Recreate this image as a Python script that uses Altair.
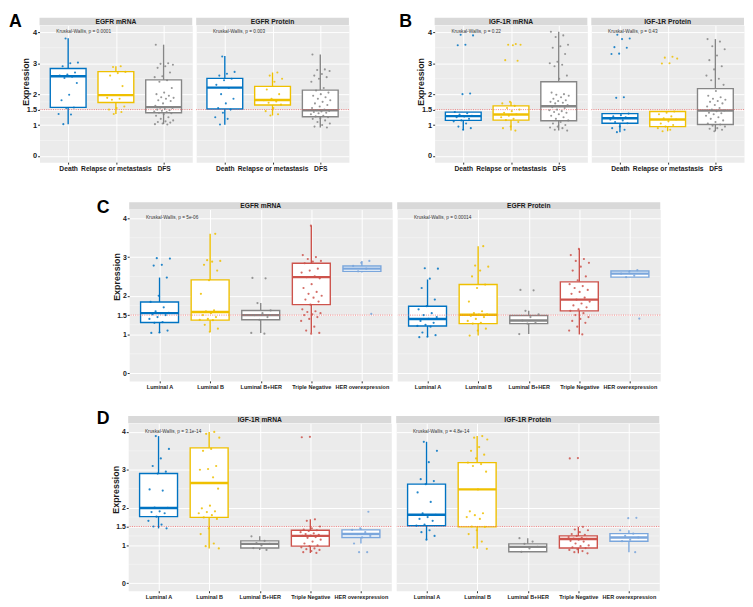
import altair as alt
import pandas as pd

FONT = "Liberation Sans"

OUTCOME_CATS = ["Death", "Relapse or metastasis", "DFS"]
SUBTYPE_CATS = ["Luminal A", "Luminal B", "Luminal B+HER", "Triple Negative", "HER overexpression"]
OUTCOME_COLORS = ["#0073C2", "#EFC000", "#868686"]
SUBTYPE_COLORS = ["#0073C2", "#EFC000", "#868686", "#CD534C", "#7AA6DC"]
COLOR_DOMAIN = OUTCOME_CATS + SUBTYPE_CATS
COLOR_RANGE = OUTCOME_COLORS + SUBTYPE_COLORS

Y_TICKS = [0, 1, 1.5, 2, 3, 4]
Y_MINOR = [0.5, 1.25, 1.75, 2.5, 3.5]
Y_DOMAIN = [-0.2, 4.23]
THRESHOLD = [1.5]

# box statistics per group: [lower whisker, Q1, median, Q3, upper whisker]
A_MRNA_BOX = [[1.03, 1.57, 2.58, 2.83, 3.81], [1.36, 1.73, 1.97, 2.73, 2.90], [1.03, 1.40, 1.58, 2.46, 3.60]]
A_PROT_BOX = [[1.01, 1.52, 2.21, 2.51, 3.23], [1.31, 1.65, 1.81, 2.25, 2.70], [0.92, 1.27, 1.48, 2.13, 3.28]]
B_MRNA_BOX = [[0.84, 1.15, 1.29, 1.42, 1.42], [0.82, 1.16, 1.34, 1.62, 1.75], [0.82, 1.14, 1.61, 2.40, 4.02]]
B_PROT_BOX = [[0.77, 1.06, 1.22, 1.37, 1.37], [0.80, 0.95, 1.18, 1.44, 1.44], [0.80, 1.02, 1.47, 2.18, 3.78]]
C_MRNA_BOX = [[1.04, 1.31, 1.55, 1.84, 2.47], [1.07, 1.37, 1.58, 2.41, 3.60], [1.04, 1.38, 1.50, 1.62, 1.81],
              [1.04, 1.77, 2.48, 2.84, 3.81], [2.60, 2.63, 2.70, 2.77, 2.90]]
C_PROT_BOX = [[0.94, 1.22, 1.40, 1.73, 2.42], [0.97, 1.28, 1.51, 2.29, 3.28], [1.01, 1.28, 1.36, 1.49, 1.61],
              [1.00, 1.61, 1.90, 2.36, 3.21], [2.48, 2.48, 2.57, 2.64, 2.66]]
D_MRNA_BOX = [[1.45, 1.76, 1.99, 2.90, 3.89], [0.92, 1.74, 2.65, 3.58, 4.00], [0.88, 0.93, 1.04, 1.12, 1.24],
              [0.80, 0.98, 1.25, 1.40, 1.69], [1.05, 1.21, 1.30, 1.41, 1.45]]
D_PROT_BOX = [[1.15, 1.52, 1.81, 2.62, 3.74], [0.91, 1.49, 2.48, 3.19, 3.89], [0.83, 0.83, 0.96, 1.04, 1.19],
              [0.79, 0.93, 1.17, 1.25, 1.49], [0.82, 1.11, 1.21, 1.31, 1.40]]

# individual observations per group
A_MRNA_PTS = [
    [3.80, 3.02, 3.00, 2.90, 2.70, 2.63, 2.60, 2.56, 2.52, 2.36, 1.98, 1.80, 1.57, 1.55, 1.36, 1.34, 1.03],
    [2.90, 2.88, 2.72, 2.68, 2.60, 2.26, 1.97, 1.88, 1.85, 1.82, 1.60, 1.55, 1.50, 1.42, 1.36],
    [3.60, 3.00, 2.98, 2.95, 2.90, 2.85, 2.70, 2.58, 2.55, 2.45, 2.40, 2.20, 2.05, 2.00, 1.95, 1.90, 1.88,
     1.85, 1.80, 1.78, 1.70, 1.62, 1.58, 1.56, 1.55, 1.52, 1.50, 1.48, 1.46, 1.44, 1.42, 1.40, 1.38, 1.35,
     1.30, 1.25, 1.20, 1.15, 1.12, 1.10, 1.08, 1.05, 1.03, 1.02],
]
A_PROT_PTS = [
    [3.22, 2.72, 2.66, 2.60, 2.50, 2.45, 2.30, 2.20, 2.00, 1.85, 1.70, 1.55, 1.50, 1.40, 1.25, 1.20, 1.02],
    [2.70, 2.60, 2.50, 2.40, 2.15, 2.00, 1.85, 1.80, 1.76, 1.72, 1.66, 1.55, 1.45, 1.35, 1.31],
    [3.28, 2.80, 2.78, 2.75, 2.65, 2.60, 2.55, 2.50, 2.40, 2.20, 2.12, 2.05, 2.00, 1.95, 1.90, 1.85, 1.80,
     1.75, 1.70, 1.65, 1.60, 1.55, 1.50, 1.48, 1.46, 1.44, 1.42, 1.40, 1.38, 1.35, 1.30, 1.28, 1.25, 1.22,
     1.20, 1.15, 1.10, 1.05, 1.00, 0.95, 0.92],
]
B_MRNA_PTS = [
    [3.92, 3.90, 3.60, 3.58, 2.02, 2.00, 1.42, 1.38, 1.34, 1.30, 1.28, 1.25, 1.20, 1.15, 1.12, 1.05, 0.95,
     0.90, 0.85],
    [3.62, 3.60, 3.60, 3.58, 3.10, 3.08, 1.75, 1.70, 1.62, 1.55, 1.50, 1.45, 1.40, 1.35, 1.30, 1.25, 1.20,
     1.16, 1.10, 0.95, 0.90, 0.82],
    [4.02, 3.90, 3.85, 3.60, 3.55, 3.50, 3.30, 3.05, 3.00, 2.95, 2.90, 2.60, 2.50, 2.05, 2.00, 1.98, 1.95,
     1.90, 1.85, 1.80, 1.78, 1.75, 1.72, 1.70, 1.65, 1.61, 1.58, 1.55, 1.50, 1.48, 1.45, 1.42, 1.40, 1.35,
     1.30, 1.25, 1.20, 1.15, 1.10, 1.05, 1.00, 0.95, 0.92, 0.90, 0.85, 0.82],
]
B_PROT_PTS = [
    [3.92, 3.80, 3.78, 3.52, 3.50, 3.31, 3.30, 1.90, 1.88, 1.37, 1.32, 1.28, 1.25, 1.22, 1.18, 1.15, 1.10,
     1.06, 0.95, 0.90, 0.85, 0.77],
    [3.21, 3.18, 3.15, 3.00, 2.99, 1.44, 1.40, 1.35, 1.28, 1.22, 1.18, 1.12, 1.05, 1.00, 0.95, 0.90, 0.85, 0.80],
    [3.78, 3.70, 3.55, 3.45, 3.25, 3.10, 2.90, 2.80, 2.60, 2.50, 2.45, 2.30, 2.10, 1.95, 1.90, 1.85, 1.82,
     1.78, 1.75, 1.70, 1.65, 1.60, 1.55, 1.50, 1.47, 1.45, 1.40, 1.38, 1.35, 1.30, 1.25, 1.20, 1.15, 1.10,
     1.05, 1.02, 0.98, 0.95, 0.90, 0.88, 0.85, 0.80],
]
C_MRNA_PTS = [
    [2.97, 2.96, 2.80, 2.78, 2.47, 2.00, 1.84, 1.70, 1.60, 1.56, 1.55, 1.52, 1.50, 1.45, 1.40, 1.32, 1.30,
     1.10, 1.05, 1.04],
    [3.60, 2.92, 2.90, 2.88, 2.80, 2.65, 2.40, 2.05, 1.62, 1.60, 1.58, 1.55, 1.50, 1.45, 1.40, 1.38, 1.37,
     1.25, 1.15, 1.07],
    [2.46, 2.45, 1.81, 1.62, 1.55, 1.50, 1.45, 1.38, 1.04, 1.02],
    [3.81, 3.05, 3.00, 2.95, 2.90, 2.88, 2.84, 2.70, 2.65, 2.60, 2.50, 2.48, 2.45, 2.30, 2.20, 2.10, 2.05,
     2.00, 1.95, 1.90, 1.85, 1.77, 1.65, 1.60, 1.58, 1.55, 1.52, 1.50, 1.45, 1.40, 1.35, 1.20, 1.10, 1.04, 1.02],
    [2.90, 2.85, 2.77, 2.70, 2.63, 1.53],
]
C_PROT_PTS = [
    [2.71, 2.70, 2.44, 2.20, 1.90, 1.73, 1.65, 1.55, 1.50, 1.45, 1.40, 1.35, 1.30, 1.25, 1.22, 1.20, 1.05,
     0.98, 0.94, 0.93],
    [3.28, 2.78, 2.75, 2.65, 2.50, 2.29, 2.20, 1.85, 1.60, 1.55, 1.52, 1.51, 1.48, 1.45, 1.40, 1.35, 1.30,
     1.28, 1.15, 1.10, 0.97],
    [2.15, 2.14, 1.61, 1.52, 1.45, 1.36, 1.30, 1.28, 1.01],
    [3.21, 3.05, 2.95, 2.90, 2.85, 2.75, 2.65, 2.50, 2.40, 2.30, 2.25, 2.20, 2.15, 2.10, 2.05, 1.95, 1.90,
     1.85, 1.80, 1.75, 1.70, 1.65, 1.61, 1.55, 1.50, 1.45, 1.40, 1.35, 1.30, 1.20, 1.10, 1.00],
    [2.66, 2.62, 2.57, 2.52, 2.48, 1.41],
]
D_MRNA_PTS = [
    [3.89, 3.55, 3.30, 3.10, 2.95, 2.90, 2.48, 2.45, 2.00, 1.99, 1.90, 1.88, 1.85, 1.76, 1.65, 1.55, 1.50, 1.45],
    [4.00, 3.95, 3.85, 3.55, 3.50, 3.10, 3.02, 3.00, 2.80, 2.65, 2.50, 2.05, 1.98, 1.90, 1.88, 1.85, 1.80,
     1.74, 1.70, 1.45, 1.30, 1.05, 0.98, 0.92],
    [1.24, 1.12, 1.06, 1.04, 1.00, 0.93, 0.88],
    [3.87, 3.86, 1.69, 1.65, 1.50, 1.45, 1.42, 1.40, 1.38, 1.35, 1.32, 1.30, 1.28, 1.26, 1.25, 1.22, 1.20,
     1.15, 1.10, 1.05, 1.00, 0.98, 0.95, 0.92, 0.90, 0.88, 0.85, 0.82, 0.80],
    [1.89, 1.45, 1.41, 1.35, 1.30, 1.25, 1.21, 1.05, 0.82, 0.82],
]
D_PROT_PTS = [
    [3.74, 3.50, 3.20, 2.75, 2.70, 2.62, 2.40, 2.15, 1.85, 1.81, 1.75, 1.70, 1.65, 1.55, 1.52, 1.40, 1.35,
     1.25, 1.15],
    [3.89, 3.85, 3.80, 3.60, 3.50, 3.40, 3.30, 3.19, 3.15, 3.10, 2.95, 2.48, 1.90, 1.85, 1.80, 1.75, 1.70,
     1.50, 1.49, 1.40, 1.30, 1.10, 0.95, 0.91],
    [1.19, 1.10, 1.04, 0.96, 0.92, 0.83],
    [3.31, 3.30, 1.49, 1.42, 1.40, 1.35, 1.30, 1.28, 1.25, 1.22, 1.20, 1.18, 1.17, 1.15, 1.12, 1.10, 1.05,
     1.00, 0.98, 0.95, 0.93, 0.90, 0.88, 0.85, 0.82, 0.79],
    [1.73, 1.72, 1.40, 1.31, 1.25, 1.21, 1.15, 1.11, 0.82],
]

P_TEXTS = {
    "A1": "Kruskal-Wallis, p = 0.0001", "A2": "Kruskal-Wallis, p = 0.003",
    "B1": "Kruskal-Wallis, p = 0.22", "B2": "Kruskal-Wallis, p = 0.43",
    "C1": "Kruskal-Wallis, p = 5e-06", "C2": "Kruskal-Wallis, p = 0.00014",
    "D1": "Kruskal-Wallis, p = 3.1e-14", "D2": "Kruskal-Wallis, p = 4.8e-14",
}

ROW_STYLE = {
    "AB": dict(w=155, h=139, sh=7.5, xfs=6.8, yfs=7.5, titlex=-9, titley=57, pt=4.5, sfs=6.8),
    "C": dict(w=267, h=174, sh=7.3, xfs=5.6, yfs=7.0, titlex=-7.5, titley=68, pt=5, sfs=6.8),
    "D": dict(w=267, h=170, sh=7.3, xfs=5.6, yfs=7.0, titlex=-7.5, titley=67, pt=5, sfs=6.8),
}

Y_LABEL_EXPR = "datum.value == 1.5 ? '1.5' : format(datum.value, 'd')"


def facet(title, cats, box, pts, ptext, st, first, letter=None):
    n = len(cats)
    w, h, sh = st["w"], st["h"], st["sh"]
    bdf = pd.DataFrame({
        "cat": cats, "idx": list(range(1, n + 1)),
        "lo": [b[0] for b in box], "q1": [b[1] for b in box], "med": [b[2] for b in box],
        "q3": [b[3] for b in box], "hi": [b[4] for b in box],
    })
    rows = []
    for i, (c, vals) in enumerate(zip(cats, pts)):
        for k, v in enumerate(vals):
            rows.append({"cat": c, "idx": i + 1, "k": k, "val": v})
    pdf = pd.DataFrame(rows)

    xs = alt.Scale(domain=[0.4, n + 0.6], nice=False, zero=False)
    ys = alt.Scale(domain=Y_DOMAIN, nice=False, zero=False)
    label_expr = "[" + ",".join("'%s'" % c for c in cats) + "][datum.value - 1]"
    xaxis = alt.Axis(values=list(range(1, n + 1)), labelExpr=label_expr, title="",
                     labelFontSize=st["xfs"], labelFontWeight="bold", labelColor="#1A1A1A",
                     tickSize=2, tickColor="#333333", labelPadding=1.5, labelOverlap=False,
                     labelFlush=False, grid=True, gridColor="white", gridWidth=1, domain=False)
    if first:
        yaxis = alt.Axis(values=Y_TICKS, labelExpr=Y_LABEL_EXPR, title="Expression", titleFontSize=9,
                         titleFontWeight="bold", titleColor="#1A1A1A", titleX=st["titlex"],
                         titleY=st["titley"], labelFontSize=st["yfs"], labelFontWeight="bold",
                         labelColor="#1A1A1A", tickSize=2, tickColor="#333333", labelPadding=1,
                         labelOverlap=False, labelSeparation=0, labelFlush=False, grid=True,
                         gridColor="white", gridWidth=1, domain=False)
    else:
        yaxis = alt.Axis(values=Y_TICKS, labels=False, ticks=False, title="", grid=True,
                         gridColor="white", gridWidth=1, domain=False)
    cscale = alt.Scale(domain=COLOR_DOMAIN, range=COLOR_RANGE)

    minor = alt.Chart(pd.DataFrame({"m": Y_MINOR})).mark_rule(
        color="white", strokeWidth=0.5, opacity=0.7
    ).encode(y=alt.Y("m:Q", scale=ys, axis=yaxis))

    base = alt.Chart(bdf).transform_calculate(xl="datum.idx - 0.375", xr="datum.idx + 0.375")
    whisk = base.mark_rule(strokeWidth=1.4).encode(
        x=alt.X("idx:Q", scale=xs, axis=xaxis),
        y=alt.Y("lo:Q", scale=ys, axis=yaxis), y2="hi:Q",
        color=alt.Color("cat:N", scale=cscale),
    )
    boxr = base.mark_rect(fill="white", strokeWidth=1.4).encode(
        x=alt.X("xl:Q", scale=xs, axis=xaxis), x2="xr:Q",
        y=alt.Y("q1:Q", scale=ys, axis=yaxis), y2="q3:Q",
        stroke=alt.Stroke("cat:N", scale=cscale),
    )
    med = base.mark_rule(strokeWidth=2.4).encode(
        x=alt.X("xl:Q", scale=xs, axis=xaxis), x2="xr:Q",
        y=alt.Y("med:Q", scale=ys, axis=yaxis),
        color=alt.Color("cat:N", scale=cscale),
    )
    thr = alt.Chart(pd.DataFrame({"t": THRESHOLD})).mark_rule(
        color="#EE5A5A", strokeWidth=1, strokeDash=[1, 1.3], opacity=0.75
    ).encode(y=alt.Y("t:Q", scale=ys, axis=yaxis))
    points = alt.Chart(pdf).transform_calculate(
        jit="((((datum.k * 0.618034 + datum.idx * 0.37) % 1) - 0.5) * 0.42)"
    ).transform_calculate(xj="datum.idx + datum.jit").mark_circle(size=st["pt"], opacity=0.85).encode(
        x=alt.X("xj:Q", scale=xs, axis=xaxis),
        y=alt.Y("val:Q", scale=ys, axis=yaxis),
        color=alt.Color("cat:N", scale=cscale),
    )
    kw = alt.Chart(pd.DataFrame({"p": [ptext]})).mark_text(
        align="left", baseline="middle", fontSize=4.8, color="#333333"
    ).encode(x=alt.value(17), y=alt.Y(datum=4.0, scale=ys, axis=yaxis), text="p:N")
    strip_rect = alt.Chart(pd.DataFrame({"s": [title]})).mark_rect(color="#D9D9D9").encode(
        x=alt.value(0), x2=alt.value(w), y=alt.value(-sh), y2=alt.value(0)
    )
    strip_text = alt.Chart(pd.DataFrame({"s": [title]})).mark_text(
        fontSize=st["sfs"], fontWeight="bold", color="#1A1A1A", baseline="middle", align="center"
    ).encode(x=alt.value(w / 2), y=alt.value(-sh / 2 + 0.3), text="s:N")
    layers = [minor, whisk, boxr, med, thr, points, kw, strip_rect, strip_text]
    if letter is not None:
        lt, lx, ly = letter
        layers.append(
            alt.Chart(pd.DataFrame({"l": [lt]})).mark_text(
                fontSize=18, fontWeight="bold", color="black", align="left", baseline="alphabetic"
            ).encode(x=alt.value(lx), y=alt.value(ly), text="l:N")
        )
    return alt.layer(*layers).properties(
        width=w, height=h, view=alt.ViewBackground(fill="#EBEBEB", stroke="transparent")
    )


def spacer(w):
    # empty block that shifts the lower rows to the right
    return alt.Chart(pd.DataFrame({"a": [0]})).mark_rect(fill="white", opacity=0).encode(
        x=alt.value(0), x2=alt.value(w), y=alt.value(0), y2=alt.value(1)
    ).properties(width=w, height=1, view=alt.ViewBackground(fill="transparent", stroke="transparent"))


A1 = facet("EGFR mRNA", OUTCOME_CATS, A_MRNA_BOX, A_MRNA_PTS, P_TEXTS["A1"],
           ROW_STYLE["AB"], True, ("A", -31, 2))
A2 = facet("EGFR Protein", OUTCOME_CATS, A_PROT_BOX, A_PROT_PTS, P_TEXTS["A2"], ROW_STYLE["AB"], False)
B1 = facet("IGF-1R mRNA", OUTCOME_CATS, B_MRNA_BOX, B_MRNA_PTS, P_TEXTS["B1"],
           ROW_STYLE["AB"], True, ("B", -36, 2))
B2 = facet("IGF-1R Protein", OUTCOME_CATS, B_PROT_BOX, B_PROT_PTS, P_TEXTS["B2"], ROW_STYLE["AB"], False)
C1 = facet("EGFR mRNA", SUBTYPE_CATS, C_MRNA_BOX, C_MRNA_PTS, P_TEXTS["C1"],
           ROW_STYLE["C"], True, ("C", -33, 3.4))
C2 = facet("EGFR Protein", SUBTYPE_CATS, C_PROT_BOX, C_PROT_PTS, P_TEXTS["C2"], ROW_STYLE["C"], False)
D1 = facet("IGF-1R mRNA", SUBTYPE_CATS, D_MRNA_BOX, D_MRNA_PTS, P_TEXTS["D1"],
           ROW_STYLE["D"], True, ("D", -32, 1))
D2 = facet("IGF-1R Protein", SUBTYPE_CATS, D_PROT_BOX, D_PROT_PTS, P_TEXTS["D2"], ROW_STYLE["D"], False)

row1 = alt.hconcat(alt.hconcat(A1, A2, spacing=2), alt.hconcat(B1, B2, spacing=2), spacing=49)
rowC = alt.hconcat(spacer(53), C1, C2, spacing=3)
rowD = alt.hconcat(spacer(53), D1, D2, spacing=3)

chart = alt.vconcat(row1, alt.vconcat(rowC, rowD, spacing=19), spacing=25).properties(
    padding=0, background="white"
).configure(font=FONT).configure_legend(disable=True)

chart.save("out.html", embed_options={"renderer": "svg", "actions": False})
